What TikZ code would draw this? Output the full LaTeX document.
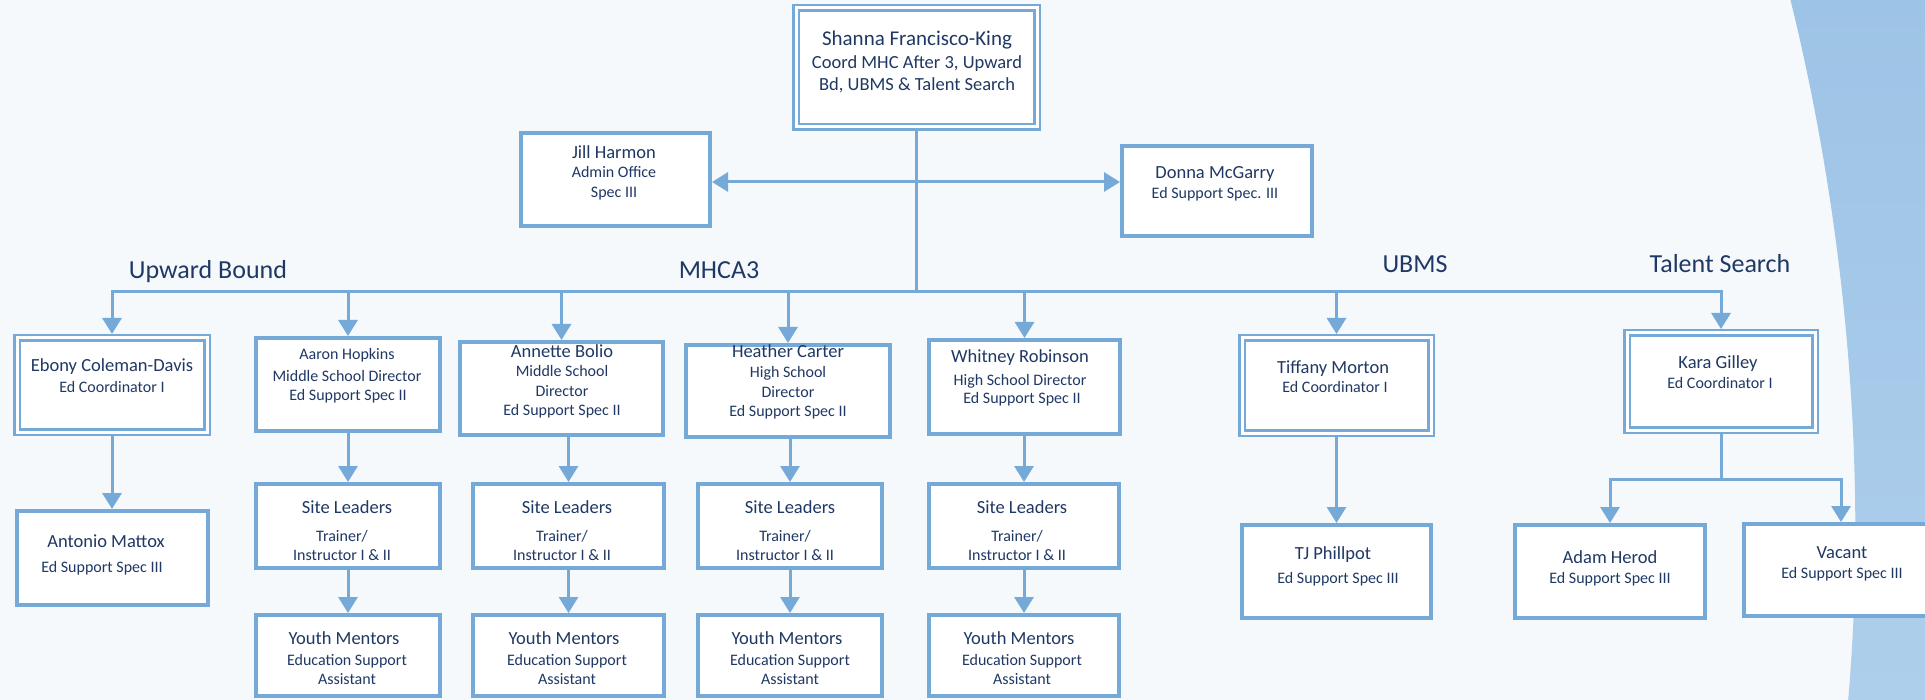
\documentclass[tikz,border=0pt]{standalone}
\usepackage{fontspec}
\setmainfont{Carlito}
\usetikzlibrary{arrows.meta}
\definecolor{navy}{HTML}{1F3864}
\definecolor{lineblue}{HTML}{74A9D8}
\definecolor{bgc}{HTML}{F5F9FC}
\definecolor{bandtop}{HTML}{9DC3E6}
\definecolor{bandbot}{HTML}{AECFEB}
\newcounter{txtl}
\newcommand\txtline[4]{\stepcounter{txtl}\node[txt,font=\fontsize{#3}{#3}\selectfont] (L\arabic{txtl}) at (#1,#2) {#4};}
\tikzset{
  txt/.style={anchor=base, text=navy, inner sep=0pt},
  box/.style={draw=lineblue, line width=4pt, fill=white, inner sep=0pt},
  dbox/.style={draw=lineblue, line width=2.5pt, double=white, double distance=3pt, fill=white, inner sep=0pt, outer sep=4pt},
  conn/.style={draw=lineblue, line width=3pt, line cap=rect},
  arr/.style={conn, -{Triangle[width=19pt,length=16pt]}},
}
\begin{document}
\begin{tikzpicture}[x=1pt,y=-1pt]
\useasboundingbox (0,0) rectangle (1925,700);
\clip (0,0) rectangle (1925,700);
\fill[bgc] (0,0) rectangle (1925,700);
\shade[top color=bandtop, bottom color=bandbot] (1790,-2) .. controls (1840,200) and (1870,450) .. (1848,702) -- (1927,702) -- (1927,-2) -- cycle;

% boxes
\node[dbox, minimum width=241pt, minimum height=119pt] (shanna) at (916.5,67.5) {};
\node[box, minimum width=189pt, minimum height=93pt] (jill) at (615.5,179.5) {};
\node[box, minimum width=190pt, minimum height=90pt] (donna) at (1217,191) {};
\node[dbox, minimum width=190pt, minimum height=94pt] (ebony) at (112,385) {};
\node[box, minimum width=184pt, minimum height=93pt] (aaron) at (348,384.5) {};
\node[box, minimum width=203pt, minimum height=93pt] (annette) at (561.5,388.5) {};
\node[box, minimum width=204pt, minimum height=92pt] (heather) at (788,391) {};
\node[box, minimum width=191pt, minimum height=94pt] (whitney) at (1024.5,387) {};
\node[dbox, minimum width=189pt, minimum height=95pt] (tiffany) at (1336.5,385.5) {};
\node[dbox, minimum width=188pt, minimum height=97pt] (kara) at (1721,381.5) {};
\node[box, minimum width=191pt, minimum height=94pt] (antonio) at (112,558) {};
\node[box, minimum width=184pt, minimum height=84pt] (sl1) at (348,526) {};
\node[box, minimum width=191pt, minimum height=84pt] (sl2) at (568.5,526) {};
\node[box, minimum width=184pt, minimum height=84pt] (sl3) at (790,526) {};
\node[box, minimum width=190pt, minimum height=84pt] (sl4) at (1024,526) {};
\node[box, minimum width=184pt, minimum height=81pt] (ym1) at (348,655.5) {};
\node[box, minimum width=191pt, minimum height=81pt] (ym2) at (568.5,655.5) {};
\node[box, minimum width=184pt, minimum height=81pt] (ym3) at (790,655.5) {};
\node[box, minimum width=190pt, minimum height=81pt] (ym4) at (1024,655.5) {};
\node[box, minimum width=189pt, minimum height=93pt] (tj) at (1336.5,571.5) {};
\node[box, minimum width=190pt, minimum height=93pt] (adam) at (1610,571.5) {};
\node[box, minimum width=194pt, minimum height=92pt] (vacant) at (1841,570) {};

% connectors
\coordinate (busL) at (112,292);
\coordinate (busR) at (1721,292);
\coordinate (hub) at (916.5,182);
\coordinate (ks) at (1721,479);
\draw[conn] (shanna.south) -- (shanna.south |- busL);
\draw[arr] (hub) -- (jill.east |- hub);
\draw[arr] (hub) -- (donna.west |- hub);
\draw[conn] (busL) -- (busR);
\foreach \n in {ebony,aaron,annette,heather,whitney,tiffany,kara}
  \draw[arr] (\n.north |- busL) -- (\n.north);
\draw[arr] (ebony.south) -- (antonio.north);
\draw[arr] (sl1.north |- aaron.south) -- (sl1.north);
\draw[arr] (sl2.north |- annette.south) -- (sl2.north);
\draw[arr] (sl3.north |- heather.south) -- (sl3.north);
\draw[arr] (sl4.north |- whitney.south) -- (sl4.north);
\draw[arr] (sl1.south) -- (ym1.north);
\draw[arr] (sl2.south) -- (ym2.north);
\draw[arr] (sl3.south) -- (ym3.north);
\draw[arr] (sl4.south) -- (ym4.north);
\draw[arr] (tj.north |- tiffany.south) -- (tj.north);
\draw[conn] (kara.south) -- (ks);
\draw[conn] (adam.north |- ks) -- (vacant.north |- ks);
\draw[arr] (adam.north |- ks) -- (adam.north);
\draw[arr] (vacant.north |- ks) -- (vacant.north);

% texts
\txtline{917}{46}{21}{Shanna Francisco-King}
\txtline{917}{69}{18.5}{Coord MHC After 3, Upward}
\txtline{917}{91}{18.5}{Bd, UBMS \& Talent Search}
\txtline{614}{159}{18.5}{Jill Harmon}
\txtline{614}{178}{16}{Admin Office}
\txtline{614}{198}{16}{Spec III}
\txtline{1215}{179}{18.5}{Donna McGarry}
\txtline{1215}{199}{16}{Ed Support Spec. III}
\txtline{208}{279}{26}{Upward Bound}
\txtline{719}{279}{26}{MHCA3}
\txtline{1415}{273}{26}{UBMS}
\txtline{1720}{273}{26}{Talent Search}
\txtline{112}{372}{18.5}{Ebony Coleman-Davis}
\txtline{112}{392}{16}{Ed Coordinator I}
\txtline{347}{360}{16}{Aaron Hopkins}
\txtline{347}{382}{16}{Middle School Director}
\txtline{348}{400}{16}{Ed Support Spec II}
\txtline{562}{358}{18.5}{Annette Bolio}
\txtline{562}{377}{16}{Middle School}
\txtline{562}{397}{16}{Director}
\txtline{562}{416}{16}{Ed Support Spec II}
\txtline{788}{358}{18.5}{Heather Carter}
\txtline{788}{378}{16}{High School}
\txtline{788}{398}{16}{Director}
\txtline{788}{417}{16}{Ed Support Spec II}
\txtline{1020}{363}{18.5}{Whitney Robinson}
\txtline{1020}{385}{16}{High School Director}
\txtline{1022}{404}{16}{Ed Support Spec II}
\txtline{1333}{374}{18.5}{Tiffany Morton}
\txtline{1335}{393}{16}{Ed Coordinator I}
\txtline{1718}{369}{18.5}{Kara Gilley}
\txtline{1720}{389}{16}{Ed Coordinator I}
\txtline{106}{547}{18.5}{Antonio Mattox}
\txtline{102}{572}{16}{Ed Support Spec III}
\foreach \cx in {347,567,790,1022}{
  \txtline{\cx}{513}{18.5}{Site Leaders}
  \txtline{\cx-5}{541}{16}{Trainer/}
  \txtline{\cx-5}{560}{16}{Instructor I \& II}
  \txtline{\cx-3}{644}{18.5}{Youth Mentors}
  \txtline{\cx}{665}{16}{Education Support}
  \txtline{\cx}{684}{16}{Assistant}
}
\txtline{1333}{559}{18.5}{TJ Phillpot}
\txtline{1338}{583}{16}{Ed Support Spec III}
\txtline{1610}{563}{18.5}{Adam Herod}
\txtline{1610}{583}{16}{Ed Support Spec III}
\txtline{1842}{558}{18.5}{Vacant}
\txtline{1842}{578}{16}{Ed Support Spec III}
\end{tikzpicture}
\end{document}
